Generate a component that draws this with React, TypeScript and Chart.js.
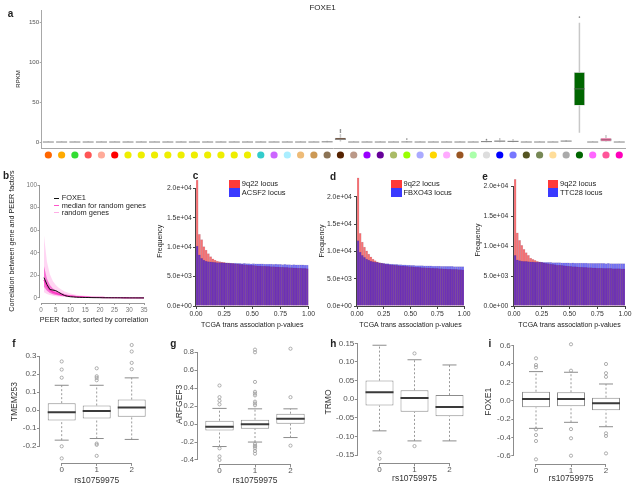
import React, { useEffect, useRef } from "react";
import { Chart, registerables } from "chart.js";

Chart.register(...registerables);

const FONT = "'Liberation Sans', Arimo, Arial, Helvetica, sans-serif";

// ---------------- Panel a: FOXE1 RPKM across tissues ----------------
const tissueColors = [
  "#FF6600", "#FFAA00", "#33DD33", "#FF5555", "#FFAA99", "#FF0000",
  "#EEEE00", "#EEEE00", "#EEEE00", "#EEEE00", "#EEEE00", "#EEEE00", "#EEEE00", "#EEEE00", "#EEEE00", "#EEEE00",
  "#33CCCC", "#CC66FF", "#AAEEFF", "#EEBB77", "#CC9955", "#8B7355", "#552200", "#BB9988", "#9900FF", "#660099",
  "#AABB66", "#99FF00", "#AAAAFF", "#FFD700", "#FFAAFF", "#995522", "#AAFFAA", "#DDDDDD", "#0000FF", "#7777FF",
  "#555522", "#778855", "#FFDD99", "#AAAAAA", "#006600", "#FF66FF", "#FF5599", "#FF00BB",
];
// [lower whisker, Q1, median, Q3, upper whisker]
const aBoxes = [
  [0, 0.1, 0.3, 0.6, 1.2], [0, 0.1, 0.3, 0.6, 1.2], [0, 0.1, 0.3, 0.6, 1.2], [0, 0.1, 0.3, 0.6, 1.2],
  [0, 0.1, 0.3, 0.6, 1.2], [0, 0.1, 0.3, 0.6, 1.2], [0, 0.1, 0.3, 0.6, 1.2], [0, 0.1, 0.3, 0.6, 1.2],
  [0, 0.1, 0.3, 0.6, 1.2], [0, 0.1, 0.3, 0.6, 1.2], [0, 0.1, 0.3, 0.6, 1.2], [0, 0.1, 0.3, 0.6, 1.2],
  [0, 0.1, 0.3, 0.6, 1.2], [0, 0.1, 0.3, 0.6, 1.2], [0, 0.1, 0.3, 0.6, 1.2], [0, 0.1, 0.3, 0.6, 1.2],
  [0, 0.1, 0.3, 0.6, 1.2], [0, 0.1, 0.3, 0.6, 1.2], [0, 0.1, 0.3, 0.6, 1.2], [0, 0.1, 0.3, 0.6, 1.2],
  [0, 0.1, 0.3, 0.6, 1.2], [0, 0.2, 0.5, 0.9, 1.8], [1.0, 2.8, 4.0, 5.8, 10.5], [0, 0.1, 0.3, 0.6, 1.2],
  [0, 0.1, 0.3, 0.6, 1.2], [0, 0.1, 0.3, 0.6, 1.2], [0, 0.1, 0.3, 0.6, 1.2], [0, 0.2, 0.4, 0.8, 1.6],
  [0, 0.1, 0.3, 0.6, 1.2], [0, 0.1, 0.3, 0.6, 1.2], [0, 0.1, 0.3, 0.6, 1.2], [0, 0.1, 0.3, 0.6, 1.2],
  [0, 0.1, 0.3, 0.6, 1.2], [0, 0.3, 0.8, 1.4, 2.8], [0, 0.6, 1.4, 2.2, 5.5], [0, 0.5, 1.1, 1.8, 4.0],
  [0, 0.1, 0.3, 0.6, 1.2], [0, 0.1, 0.3, 0.6, 1.2], [0, 0.1, 0.3, 0.6, 1.2], [0.4, 1.1, 1.5, 2.0, 2.8],
  [12, 46, 67, 88, 150], [0, 0.1, 0.3, 0.6, 1.2], [0.3, 1.0, 3.0, 5.5, 9.0], [0, 0.1, 0.3, 0.6, 1.2],
];
const aOutliers: number[][] = [
  [], [], [], [], [], [], [], [], [], [], [], [], [], [], [], [], [], [], [], [], [], [],
  [12.5, 14, 15.5], [], [], [], [], [4], [], [], [], [], [], [3.5], [], [], [], [], [], [], [157], [], [], [],
];
const aYTicks = [0, 50, 100, 150];

// ---------------- Panel b: PEER factor correlation ----------------
const peerFactor = [1, 2, 3, 4, 5, 6, 7, 8, 9, 10, 11, 12, 13, 14, 15, 16, 17, 18, 19, 20, 21, 22, 23, 24, 25, 26, 27, 28, 29, 30, 31, 32, 33, 34, 35];
const foxe1Corr = [18, 12, 7.5, 7, 6.5, 5, 3.5, 2.2, 1.5, 1.1, 0.9, 0.7, 0.6, 0.5, 0.45, 0.4, 0.35, 0.3, 0.28, 0.25, 0.22, 0.2, 0.18, 0.16, 0.15, 0.13, 0.12, 0.1, 0.09, 0.08, 0.07, 0.06, 0.05, 0.04, 0.03];
const randomMedian = [16, 10.5, 7, 5.2, 4.2, 3.4, 2.8, 2.3, 1.9, 1.6, 1.35, 1.15, 1.0, 0.88, 0.78, 0.7, 0.62, 0.55, 0.5, 0.45, 0.41, 0.37, 0.34, 0.31, 0.28, 0.26, 0.24, 0.22, 0.2, 0.18, 0.16, 0.15, 0.13, 0.12, 0.1];
const randomOuterHigh = [55, 32, 21, 15, 11.5, 9, 7.2, 5.8, 4.8, 4.0, 3.4, 2.9, 2.5, 2.2, 1.9, 1.7, 1.5, 1.35, 1.2, 1.1, 1.0, 0.9, 0.82, 0.75, 0.68, 0.62, 0.56, 0.5, 0.46, 0.42, 0.38, 0.35, 0.32, 0.29, 0.26];
const randomOuterLow = [5, 3.5, 2.6, 2.0, 1.6, 1.3, 1.05, 0.85, 0.7, 0.58, 0.48, 0.4, 0.34, 0.29, 0.25, 0.21, 0.18, 0.15, 0.13, 0.11, 0.1, 0.09, 0.08, 0.07, 0.06, 0.05, 0.045, 0.04, 0.035, 0.03, 0.025, 0.02, 0.02, 0.015, 0.01];
const randomInnerHigh = [28, 17, 11.5, 8.5, 6.6, 5.3, 4.3, 3.5, 2.9, 2.45, 2.1, 1.8, 1.55, 1.35, 1.2, 1.05, 0.95, 0.85, 0.77, 0.7, 0.63, 0.57, 0.52, 0.47, 0.43, 0.39, 0.36, 0.33, 0.3, 0.27, 0.25, 0.23, 0.21, 0.19, 0.17];
const randomInnerLow = [10, 6.5, 4.5, 3.4, 2.7, 2.2, 1.8, 1.5, 1.25, 1.05, 0.9, 0.78, 0.68, 0.6, 0.53, 0.47, 0.42, 0.37, 0.33, 0.3, 0.27, 0.24, 0.22, 0.2, 0.18, 0.16, 0.14, 0.13, 0.12, 0.11, 0.1, 0.09, 0.08, 0.07, 0.06];
const bXTicks = [0, 5, 10, 15, 20, 25, 30, 35];
const bYTicks = [0, 20, 40, 60, 80, 100];

// ---------------- Panels c, d, e: p-value histograms ----------------
const pTicks = [0, 0.25, 0.5, 0.75, 1];
const freqTicks = [0, 5000, 10000, 15000, 20000];
const c9q22 = [21400, 12200, 11300, 10100, 9500, 8900, 8400, 8000, 7800, 7650, 7560, 7470, 7430, 7360, 7330, 7260, 7240, 7180, 7160, 7100, 7080, 7030, 7010, 6960, 6950, 6900, 6890, 6840, 6830, 6790, 6790, 6740, 6740, 6690, 6690, 6650, 6650, 6610, 6610, 6570, 6570, 6530, 6530, 6490, 6490, 6450, 6450, 6410, 6410, 6370];
const cACSF2 = [10200, 8700, 8100, 7800, 7650, 7550, 7500, 7460, 7430, 7390, 7380, 7370, 7330, 7330, 7300, 7300, 7270, 7280, 7250, 7260, 7230, 7240, 7210, 7220, 7190, 7200, 7170, 7180, 7150, 7160, 7130, 7140, 7110, 7130, 7090, 7110, 7070, 7090, 7050, 7070, 7030, 7050, 7020, 7030, 7000, 7010, 6980, 6990, 6960, 6970];
const d9q22 = [23500, 13300, 11700, 10800, 10100, 9500, 9000, 8600, 8300, 8100, 7950, 7850, 7760, 7690, 7630, 7580, 7530, 7490, 7450, 7410, 7370, 7340, 7300, 7270, 7240, 7210, 7180, 7150, 7120, 7090, 7060, 7030, 7000, 6980, 6950, 6930, 6900, 6880, 6860, 6840, 6820, 6800, 6780, 6760, 6740, 6720, 6700, 6680, 6660, 6640];
const dFBXO43 = [12000, 9900, 9300, 8900, 8600, 8400, 8250, 8150, 8050, 7980, 7920, 7870, 7830, 7780, 7750, 7700, 7680, 7640, 7620, 7580, 7570, 7540, 7530, 7500, 7490, 7460, 7450, 7420, 7410, 7390, 7390, 7370, 7370, 7350, 7350, 7330, 7330, 7310, 7310, 7290, 7290, 7270, 7270, 7250, 7250, 7230, 7240, 7210, 7220, 7200];
const e9q22 = [21100, 12200, 10950, 10100, 9450, 8900, 8450, 8000, 7780, 7600, 7450, 7350, 7260, 7180, 7110, 7050, 6990, 6940, 6890, 6840, 6800, 6760, 6720, 6680, 6640, 6610, 6580, 6550, 6520, 6490, 6470, 6450, 6430, 6410, 6390, 6370, 6350, 6330, 6310, 6300, 6290, 6280, 6270, 6260, 6250, 6240, 6230, 6220, 6210, 6200];
const eTTC28 = [8450, 7700, 7550, 7500, 7460, 7430, 7400, 7380, 7370, 7340, 7330, 7300, 7300, 7280, 7280, 7260, 7260, 7240, 7240, 7220, 7220, 7200, 7210, 7190, 7190, 7170, 7180, 7160, 7160, 7150, 7150, 7140, 7140, 7130, 7130, 7120, 7120, 7110, 7110, 7100, 7110, 7090, 7100, 7080, 7090, 7080, 7080, 7070, 7070, 7060];

// ---------------- Panels f-i: boxplots by genotype ----------------
const genotypes = [0, 1, 2];
// [lower whisker, Q1, median, Q3, upper whisker]
const fBoxes = [[-0.166, -0.057, -0.011, 0.039, 0.138], [-0.157, -0.046, -0.004, 0.026, 0.138], [-0.162, -0.037, 0.015, 0.059, 0.179]];
const fOutliers = [[0.27, 0.225, 0.18, -0.2, -0.267], [0.232, 0.188, 0.179, 0.166, -0.185, -0.192, -0.253], [0.361, 0.325, 0.262, 0.227]];
const fYTicks = [-0.2, -0.1, 0, 0.1, 0.2, 0.3];
const gBoxes = [[-0.25, -0.07, -0.03, 0.038, 0.175], [-0.2, -0.051, -0.003, 0.049, 0.17], [-0.15, 0.004, 0.06, 0.116, 0.17]];
const gOutliers = [[0.43, 0.3, 0.26, 0.22, -0.27, -0.36, -0.4], [0.83, 0.8, 0.47, 0.36, 0.34, 0.32, 0.25, 0.23, 0.21, -0.22, -0.24, -0.25, -0.27, -0.3, -0.33], [0.84, 0.3, -0.24]];
const gYTicks = [-0.4, -0.2, 0, 0.2, 0.4, 0.6, 0.8];
const hBoxes = [[-0.085, -0.017, 0.019, 0.05, 0.145], [-0.112, -0.034, 0.003, 0.024, 0.106], [-0.112, -0.046, -0.021, 0.011, 0.092]];
const hOutliers = [[-0.143, -0.16], [0.123, -0.126], []];
const hYTicks = [-0.15, -0.1, -0.05, 0, 0.05, 0.1, 0.15];
const iBoxes = [[-0.302, -0.073, 0.018, 0.098, 0.317], [-0.236, -0.06, 0.018, 0.092, 0.31], [-0.284, -0.105, -0.029, 0.033, 0.182]];
const iOutliers = [[0.462, 0.389, 0.364, -0.313, -0.375, -0.44, -0.64], [0.615, 0.327, -0.31, -0.41, -0.6], [0.4, 0.3, 0.26, -0.356, -0.385, -0.575]];
const iYTicks = [-0.6, -0.4, -0.2, 0, 0.2, 0.4, 0.6];

// ---------------- helpers ----------------
const common: any = {
  animation: false,
  responsive: false,
  maintainAspectRatio: false,
  devicePixelRatio: 1,
  events: [],
  plugins: { legend: { display: false }, tooltip: { enabled: false } },
};

function makeRAxis(color: string) {
  return {
    id: "rAxis",
    afterDraw(chart: any) {
      const { ctx, chartArea } = chart;
      ctx.save();
      ctx.strokeStyle = color;
      ctx.lineWidth = 1;
      ["x", "y"].forEach((id) => {
        const sc = chart.scales[id];
        const t = sc.ticks;
        if (!t || !t.length) return;
        const p0 = sc.getPixelForValue(t[0].value);
        const p1 = sc.getPixelForValue(t[t.length - 1].value);
        ctx.beginPath();
        if (id === "x") {
          const y = Math.round(chartArea.bottom) + 0.5;
          ctx.moveTo(p0, y);
          ctx.lineTo(p1, y);
        } else {
          const x = Math.round(chartArea.left) - 0.5;
          ctx.moveTo(x, p0);
          ctx.lineTo(x, p1);
        }
        ctx.stroke();
      });
      ctx.restore();
    },
  };
}

function makeDots(colors: string[], offset: number, radius: number) {
  return {
    id: "tissueDots",
    afterDraw(chart: any) {
      const { ctx, chartArea } = chart;
      const xs = chart.scales.x;
      ctx.save();
      colors.forEach((c, i) => {
        ctx.beginPath();
        ctx.arc(xs.getPixelForValue(i), chartArea.bottom + offset, radius, 0, Math.PI * 2);
        ctx.fillStyle = c;
        ctx.fill();
      });
      ctx.restore();
    },
  };
}

function axis(o: any, isX: boolean) {
  return {
    type: "linear",
    min: o.min,
    max: o.max,
    offset: false,
    bounds: "data",
    afterBuildTicks: (s: any) => {
      s.ticks = o.ticks.map((v: number) => ({ value: v }));
    },
    afterFit: (s: any) => {
      if (isX) s.height = o.size;
      else s.width = o.size;
      s.paddingLeft = 0;
      s.paddingRight = 0;
      s.paddingTop = 0;
      s.paddingBottom = 0;
    },
    ticks: {
      display: o.showTicks !== false,
      autoSkip: false,
      maxRotation: 0,
      minRotation: 0,
      padding: o.pad,
      color: o.color,
      font: { family: FONT, size: o.fs },
      callback: (v: any) => o.fmt(Number(v)),
    },
    grid: {
      display: o.grid !== false,
      drawOnChartArea: false,
      drawTicks: true,
      tickLength: o.tl,
      color: o.line,
      lineWidth: 1,
      offset: false,
    },
    border: { display: !!o.border, color: o.line, width: 1 },
    title: o.title
      ? { display: true, text: o.title, color: o.tcolor || "#222", font: { family: FONT, size: o.ts }, padding: o.tpad }
      : { display: false },
  };
}

function boxDatasets(stats: number[][], outliers: number[][], s: any) {
  const ds: any[] = [];
  ds.push({
    type: "bar",
    order: 3,
    grouped: false,
    data: stats.map((b, i) => ({ x: i, y: [b[1], b[3]] })),
    backgroundColor: s.fill,
    borderColor: s.border,
    borderWidth: s.borderWidth,
    borderSkipped: false,
    barPercentage: s.boxWidth,
    categoryPercentage: 1,
  });
  const wPts: any[] = [];
  stats.forEach((b, i) => {
    wPts.push({ x: i, y: b[0] }, { x: i, y: b[1] }, { x: i, y: null }, { x: i, y: b[3] }, { x: i, y: b[4] }, { x: i, y: null });
  });
  ds.push({
    type: "line", order: 4, data: wPts, borderColor: s.whisker, borderWidth: s.whiskerWidth,
    borderDash: s.dash, pointRadius: 0, spanGaps: false, fill: false, tension: 0,
  });
  const mPts: any[] = [];
  stats.forEach((b, i) => {
    mPts.push({ x: i - s.boxWidth / 2, y: b[2] }, { x: i + s.boxWidth / 2, y: b[2] }, { x: i, y: null });
  });
  ds.push({
    type: "line", order: 1, data: mPts, borderColor: s.median, borderWidth: s.medianWidth,
    pointRadius: 0, spanGaps: false, fill: false, tension: 0,
  });
  if (s.cap > 0) {
    const cPts: any[] = [];
    stats.forEach((b, i) => {
      cPts.push({ x: i - s.cap, y: b[0] }, { x: i + s.cap, y: b[0] }, { x: i, y: null });
      cPts.push({ x: i - s.cap, y: b[4] }, { x: i + s.cap, y: b[4] }, { x: i, y: null });
    });
    ds.push({
      type: "line", order: 2, data: cPts, borderColor: s.capColor, borderWidth: 1,
      pointRadius: 0, spanGaps: false, fill: false, tension: 0,
    });
  }
  const oPts: any[] = [];
  outliers.forEach((arr, i) => arr.forEach((v) => oPts.push({ x: i, y: v })));
  ds.push({
    type: "scatter", order: 0, data: oPts, showLine: false,
    pointRadius: s.outR, pointBackgroundColor: s.outFill, pointBorderColor: s.outColor, pointBorderWidth: s.outBW,
  });
  return ds;
}

const sci = (v: number) => {
  if (v === 0) return "0.0e+00";
  const e = Math.floor(Math.log10(v));
  const m = v / Math.pow(10, e);
  return m.toFixed(1) + "e+" + (e < 10 ? "0" + e : String(e));
};

// ---------------- chart configs ----------------
function configA() {
  return {
    type: "bar",
    data: {
      datasets: boxDatasets(aBoxes, aOutliers, {
        fill: tissueColors, border: "rgba(150,150,150,0.7)", borderWidth: 0.7, boxWidth: 0.83,
        whisker: "#c8c8c8", whiskerWidth: 1.5, dash: [], median: "#6a6a6a", medianWidth: 0.8, cap: 0,
        outR: 0.8, outFill: "#888", outColor: "#888", outBW: 0,
      }),
    },
    options: {
      ...common,
      layout: { padding: { left: 0, top: 10, right: 14.1, bottom: 0 } },
      scales: {
        x: {
          type: "linear", min: -0.5, max: 43.5, offset: false, bounds: "data",
          afterBuildTicks: (s: any) => { s.ticks = tissueColors.map((_, i) => ({ value: i })); },
          afterFit: (s: any) => { s.height = 22; s.paddingLeft = 0; s.paddingRight = 0; },
          ticks: { display: false },
          grid: { display: false, offset: false },
          border: { display: true, color: "#a8a8a8", width: 1 },
        },
        y: axis({
          min: -7.2, max: 166, ticks: aYTicks, fmt: (v: number) => String(v), size: 41.7, fs: 6.2,
          color: "#555", tl: 2, pad: 0.5, title: "RPKM", ts: 6, tpad: { top: 14.9 }, line: "#a8a8a8", border: true,
        }, false),
      },
    },
    plugins: [makeDots(tissueColors, 7, 3.6)],
  };
}

function configB() {
  const pts = (arr: number[]) => arr.map((v, i) => ({ x: peerFactor[i], y: v }));
  return {
    type: "line",
    data: {
      datasets: [
        { data: pts(randomOuterHigh), borderWidth: 0, borderColor: "rgba(0,0,0,0)", backgroundColor: "rgba(255,120,215,0.3)", fill: "+1", pointRadius: 0, order: 4 },
        { data: pts(randomOuterLow), borderWidth: 0, borderColor: "rgba(0,0,0,0)", fill: false, pointRadius: 0, order: 4 },
        { data: pts(randomInnerHigh), borderWidth: 0, borderColor: "rgba(0,0,0,0)", backgroundColor: "rgba(240,30,185,0.55)", fill: "+1", pointRadius: 0, order: 3 },
        { data: pts(randomInnerLow), borderWidth: 0, borderColor: "rgba(0,0,0,0)", fill: false, pointRadius: 0, order: 3 },
        { data: pts(randomMedian), borderWidth: 1.3, borderColor: "#ff2fbf", fill: false, pointRadius: 0, order: 1 },
        { data: pts(foxe1Corr), borderWidth: 1, borderColor: "#111", fill: false, pointRadius: 0, order: 0 },
      ],
    },
    options: {
      ...common,
      layout: { padding: { left: 0, top: 10.5, right: 12, bottom: 0 } },
      scales: {
        x: axis({ min: -0.36, max: 36.36, ticks: bXTicks, fmt: (v: number) => String(v), size: 27.5, fs: 6.3, color: "#777", tl: 2.5, pad: 1, line: "#999" }, true),
        y: axis({ min: -4, max: 104, ticks: bYTicks, fmt: (v: number) => String(v), size: 40, fs: 6.3, color: "#777", tl: 2.5, pad: 0.5, line: "#999" }, false),
      },
    },
    plugins: [makeRAxis("#999")],
  };
}

function configHist(red: number[], blue: number[], g: any) {
  const pts = (arr: number[]) => arr.map((v, i) => ({ x: (i + 0.5) / arr.length, y: v }));
  return {
    type: "bar",
    data: {
      datasets: [
        { data: pts(red), backgroundColor: "rgba(255,0,0,0.5)", borderColor: "rgba(90,0,40,0.22)", borderWidth: 0.5, grouped: false, barPercentage: 1, categoryPercentage: 1, order: 1 },
        { data: pts(blue), backgroundColor: "rgba(0,0,255,0.5)", borderColor: "rgba(40,0,90,0.22)", borderWidth: 0.5, grouped: false, barPercentage: 1, categoryPercentage: 1, order: 0 },
      ],
    },
    options: {
      ...common,
      layout: { padding: { left: 0, top: g.top, right: g.right, bottom: 0 } },
      scales: {
        x: axis({
          min: 0, max: 1, ticks: pTicks, fmt: (v: number) => v.toFixed(2), size: 24, fs: 6.8, color: "#333", tl: 3, pad: 1.3,
          title: "TCGA trans association p-values", ts: 7, tpad: { bottom: 0.3 }, line: "#444",
        }, true),
        y: axis({
          min: 0, max: g.yMax, ticks: freqTicks, fmt: sci, size: g.yW, fs: 6.8, color: "#333", tl: 3, pad: g.yPad,
          title: "Frequency", ts: 7, tpad: { top: g.titlePad }, line: "#444",
        }, false),
      },
    },
    plugins: [makeRAxis("#444")],
  };
}

function configBox(stats: number[][], outliers: number[][], g: any) {
  return {
    type: "bar",
    data: {
      datasets: boxDatasets(stats, outliers, {
        fill: "#ffffff", border: "#8c8c8c", borderWidth: 1, boxWidth: 0.8,
        whisker: "#9a9a9a", whiskerWidth: 1, dash: [2, 2], median: "#3a3a3a", medianWidth: 2, cap: 0.2, capColor: "#8c8c8c",
        outR: 1.6, outFill: "rgba(0,0,0,0)", outColor: "#9a9a9a", outBW: 0.8,
      }),
    },
    options: {
      ...common,
      layout: { padding: { left: 0, top: g.top, right: g.right, bottom: 0 } },
      scales: {
        x: axis({
          min: -0.62, max: 2.62, ticks: genotypes, fmt: (v: number) => String(v), size: g.xH, fs: 8, color: "#555", tl: 3, pad: -1,
          title: "rs10759975", ts: 8.5, tpad: { bottom: g.xTitlePad }, line: "#8c8c8c", tcolor: "#333",
        }, true),
        y: axis({
          min: g.yMin, max: g.yMax, ticks: g.yTicks, fmt: g.fmt, size: g.yW, fs: g.fs || 8, color: "#555", tl: 3, pad: 0.5,
          title: g.title, ts: 8.5, tpad: { top: g.yTitlePad }, line: "#8c8c8c", tcolor: "#333",
        }, false),
      },
    },
    plugins: [makeRAxis("#8c8c8c")],
  };
}

// ---------------- components ----------------
function ChartCanvas({ x, y, w, h, build }: { x: number; y: number; w: number; h: number; build: () => any }) {
  const ref = useRef<HTMLCanvasElement | null>(null);
  useEffect(() => {
    if (!ref.current) return;
    const chart = new Chart(ref.current, build());
    return () => chart.destroy();
  }, []);
  return <canvas ref={ref} width={w} height={h} style={{ position: "absolute", left: x, top: y, width: w, height: h }} />;
}

function Txt({ x, y, size, children, bold, color, center, rotate }: any) {
  let transform = center ? "translate(-50%,-50%)" : "translateY(-50%)";
  if (rotate) transform = "translate(-50%,-50%) rotate(-90deg)";
  return (
    <div
      style={{
        position: "absolute", left: x, top: y, fontSize: size, fontWeight: bold ? 700 : 400,
        color: color || "#222", lineHeight: 1, whiteSpace: "nowrap", transform, fontFamily: FONT,
      }}
    >
      {children}
    </div>
  );
}

function Swatch({ x, y, w, h, color }: any) {
  return <div style={{ position: "absolute", left: x, top: y, width: w, height: h, background: color }} />;
}

function HistLegend({ x, other }: { x: number; other: string }) {
  return (
    <>
      <Swatch x={x} y={180} w={10.7} h={8.3} color="#ff3a3a" />
      <Swatch x={x} y={188.3} w={10.7} h={8.6} color="#3a3aff" />
      <Txt x={x + 12.5} y={184.4} size={7.5}>9q22 locus</Txt>
      <Txt x={x + 12.5} y={192.8} size={7.5}>{other}</Txt>
    </>
  );
}

export default function App() {
  const fmt1 = (v: number) => v.toFixed(1);
  const fmtH = (v: number) => (v === 0 ? "0.0" : v.toFixed(2));
  return (
    <div style={{ position: "absolute", left: 0, top: 0, width: 640, height: 488, background: "#fff", overflow: "hidden" }}>
      <ChartCanvas x={0} y={0} w={640} h={170} build={configA} />
      <ChartCanvas x={0} y={170} w={160} h={160} build={configB} />
      <ChartCanvas x={152} y={170} w={168} h={160} build={() => configHist(c9q22, cACSF2, { top: 6.6, right: 11.5, yMax: 22000, yW: 44, yPad: 1.3, titlePad: 3.8 })} />
      <ChartCanvas x={312} y={170} w={164} h={160} build={() => configHist(d9q22, dFBXO43, { top: 6.1, right: 12, yMax: 23800, yW: 45, yPad: 2.3, titlePad: 6.3 })} />
      <ChartCanvas x={468} y={170} w={172} h={160} build={() => configHist(e9q22, eTTC28, { top: 4, right: 15, yMax: 22000, yW: 46, yPad: 2.7, titlePad: 6.1 })} />
      <ChartCanvas x={0} y={330} w={160} h={158} build={() => configBox(fBoxes, fOutliers, { top: 10.5, right: 6.6, xH: 25.1, yW: 40, yMin: -0.292, yMax: 0.386, yTicks: fYTicks, fmt: fmt1, title: "TMEM253", yTitlePad: 9.9, xTitlePad: 2.2 })} />
      <ChartCanvas x={160} y={330} w={160} h={158} build={() => configBox(gBoxes, gOutliers, { top: 14.26, right: 7.5, xH: 23.55, yW: 37.5, yMin: -0.4496, yMax: 0.8896, yTicks: gYTicks, fmt: fmt1, fs: 7.5, title: "ARFGEF3", yTitlePad: 14.8, xTitlePad: 2.2 })} />
      <ChartCanvas x={320} y={330} w={160} h={158} build={() => configBox(hBoxes, hOutliers, { top: 10.7, right: 8.8, xH: 24.7, yW: 37.8, yMin: -0.1722, yMax: 0.1572, yTicks: hYTicks, fmt: fmtH, title: "TRMO", yTitlePad: 3.2, xTitlePad: 4.6 })} />
      <ChartCanvas x={480} y={330} w={160} h={158} build={() => configBox(iBoxes, iOutliers, { top: 9.7, right: 12.3, xH: 24.05, yW: 34.3, yMin: -0.69, yMax: 0.665, yTicks: iYTicks, fmt: fmt1, title: "FOXE1", yTitlePad: 3.2, xTitlePad: 4.6 })} />

      {/* panel a title */}
      <Txt x={322.6} y={7.5} size={8} center>FOXE1</Txt>

      {/* panel b texts */}
      <Txt x={12} y={241} size={7.2} rotate>Correlation between gene and PEER factors</Txt>
      <Txt x={94} y={320} size={7.2} center>PEER factor, sorted by correlation</Txt>
      <Swatch x={54.3} y={197.8} w={5} h={1} color="#111" />
      <Swatch x={54.3} y={205.2} w={5} h={1} color="#ff55cc" />
      <Swatch x={54.3} y={211.8} w={5} h={1} color="rgba(255,140,220,0.7)" />
      <Txt x={61.7} y={198.3} size={7.4}>FOXE1</Txt>
      <Txt x={61.7} y={205.7} size={7.4}>median for random genes</Txt>
      <Txt x={61.7} y={212.6} size={7.4}>random genes</Txt>

      {/* histogram legends */}
      <HistLegend x={229.3} other="ACSF2 locus" />
      <HistLegend x={391} other="FBXO43 locus" />
      <HistLegend x={547.5} other="TTC28 locus" />

      {/* panel letters */}
      <Txt x={10.5} y={14} size={10} bold center>a</Txt>
      <Txt x={6} y={176} size={10} bold center>b</Txt>
      <Txt x={195.5} y={176} size={10} bold center>c</Txt>
      <Txt x={333} y={177} size={10} bold center>d</Txt>
      <Txt x={485} y={177} size={10} bold center>e</Txt>
      <Txt x={14} y={343.5} size={10} bold center>f</Txt>
      <Txt x={173.3} y={343.5} size={10} bold center>g</Txt>
      <Txt x={333.3} y={344} size={10} bold center>h</Txt>
      <Txt x={490} y={343.5} size={10} bold center>i</Txt>
    </div>
  );
}
